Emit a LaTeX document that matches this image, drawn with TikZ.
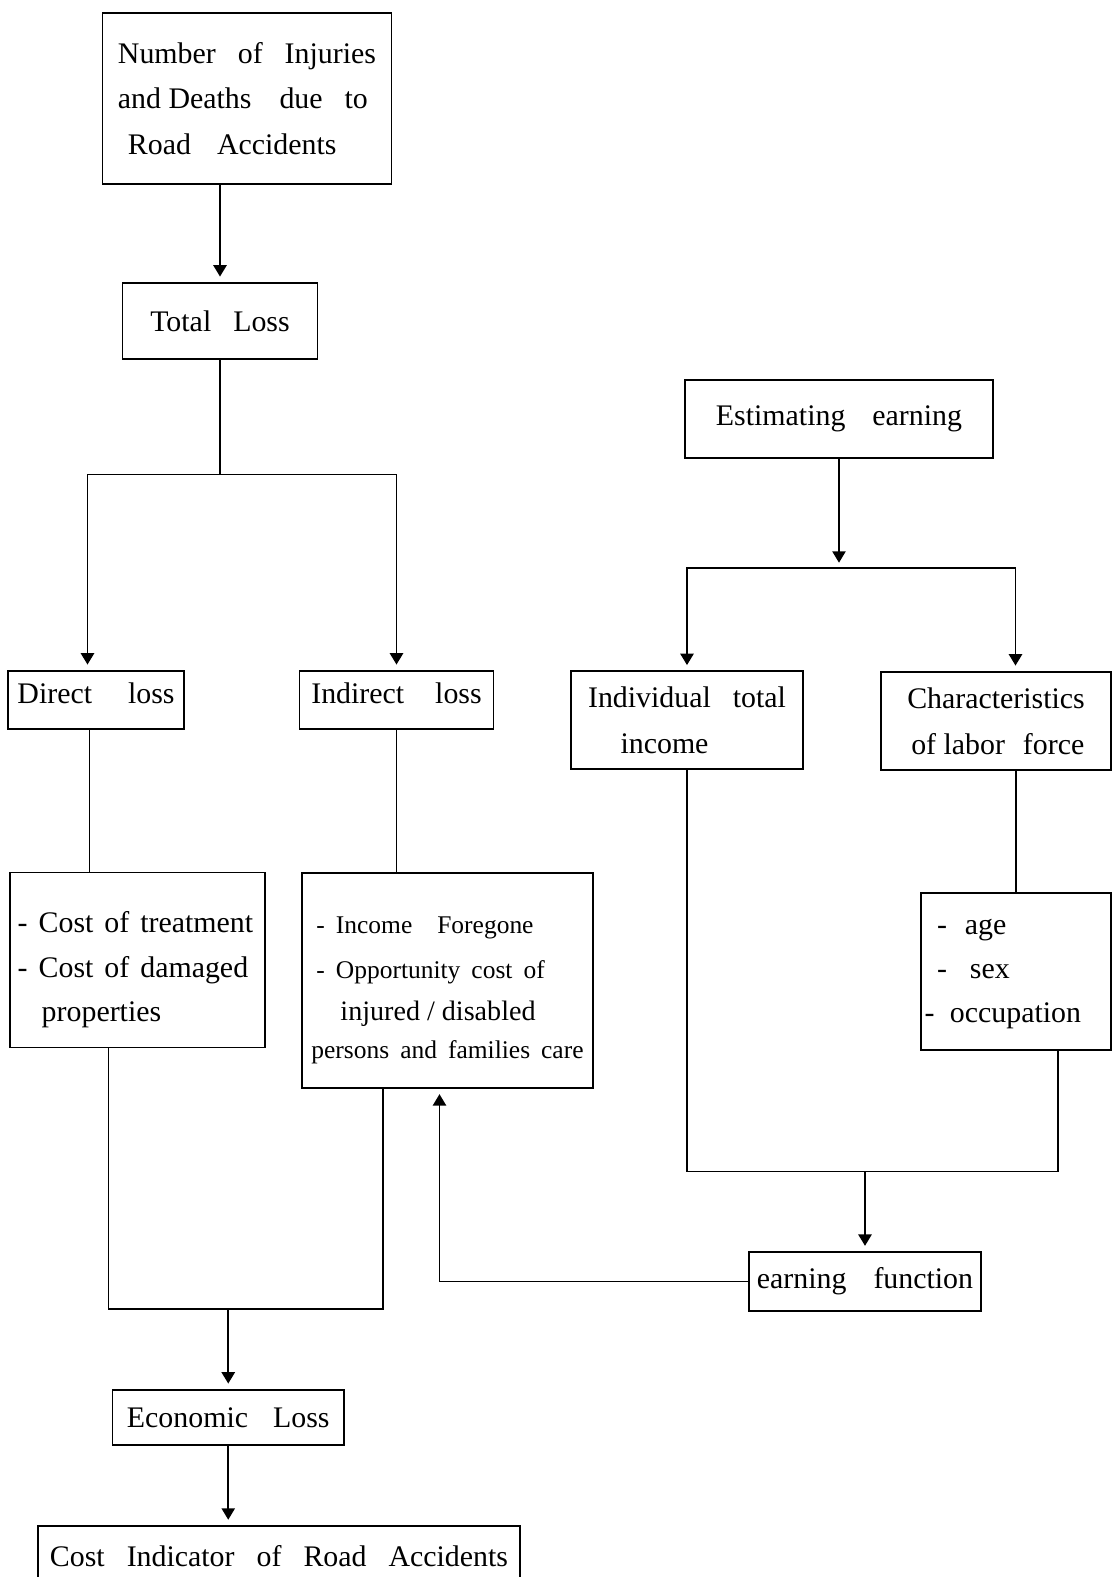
\documentclass[tikz,border=0pt]{standalone}
\usepackage{fontspec}
\setmainfont{Liberation Serif}
\usetikzlibrary{arrows.meta}

\newcommand{\wsp}{\hspace{0.44cm}}
\newcommand{\nsp}{\hspace{0.22cm}}

\tikzset{
  box/.style={draw, line width=1pt, inner sep=2pt, font=\fontsize{17}{26}\selectfont},
  link/.style={line width=1.1pt},
  arr/.style={line width=1.1pt, -{Triangle[length=6.5pt,width=7.5pt]}, shorten >=3pt},
}

\begin{document}
\begin{tikzpicture}
\useasboundingbox (0,0) rectangle (22.26,-31.54);
\clip (0,0) rectangle (22.26,-31.54);

% left column
\node[box, minimum width=5.78cm, minimum height=3.42cm, align=left] (accidents) at (4.94,-1.97)
  {Number\wsp of\wsp Injuries\\and Deaths\hspace{0.56cm}due\wsp to\\\hspace{0.2cm}Road\hspace{0.52cm}Accidents};
\node[box, minimum width=3.90cm, minimum height=1.53cm] (total) at (4.40,-6.42) {Total\wsp Loss};
\node[box, minimum width=3.52cm, minimum height=1.17cm, text depth=8pt] (direct) at (1.92,-14.0) {Direct\hspace{0.72cm}loss};
\node[box, minimum width=3.88cm, minimum height=1.17cm, text depth=8pt] (indirect) at (7.93,-14.0) {Indirect\hspace{0.62cm}loss};
\node[box, text width=4.95cm, minimum height=3.50cm, align=left, font=\fontsize{17}{25.5}\selectfont] (directcost) at (2.75,-19.2)
  {\rule{0pt}{23pt}\hspace{0.08cm}-\nsp Cost\nsp of\nsp treatment\\\hspace{0.08cm}-\nsp Cost\nsp of\nsp damaged\\\hspace{0.56cm}properties};
\node[box, minimum width=5.83cm, minimum height=4.30cm, align=left, font=\fontsize{14.5}{22.5}\selectfont] (indirectcost) at (8.95,-19.61)
  {\rule{0pt}{21pt}\hspace{0.1cm}-\nsp Income\hspace{0.5cm}Foregone\\[2.7pt]\hspace{0.1cm}-\nsp Opportunity\nsp cost\nsp of\\[1.4pt]
   \fontsize{16}{22.5}\selectfont\hspace{0.58cm}injured / disabled\\[-0.6pt]
   \fontsize{14.5}{22.5}\selectfont persons\nsp and\nsp families\nsp care};
\node[box, minimum width=4.63cm, minimum height=1.11cm] (economic) at (4.565,-28.35) {Economic\hspace{0.5cm}Loss};
\node[box, minimum width=9.64cm, minimum height=1.2cm, anchor=north] (indicator) at (5.58,-30.5)
  {Cost\wsp Indicator\wsp of\wsp Road\wsp Accidents};

% right column
\node[box, minimum width=6.17cm, minimum height=1.57cm] (estimating) at (16.78,-8.38) {Estimating\hspace{0.54cm}earning};
\node[box, minimum width=4.64cm, minimum height=1.95cm, align=left] (income) at (13.74,-14.4)
  {Individual\wsp total\\\hspace{0.65cm}income};
\node[box, minimum width=4.60cm, minimum height=1.97cm, align=left] (labor) at (19.92,-14.42)
  {Characteristics\\\hspace{0.08cm}of labor\hspace{0.36cm}force};
\node[box, text width=3.66cm, minimum height=3.14cm, align=left, font=\fontsize{17}{25}\selectfont] (traits) at (20.32,-19.43)
  {\rule{0pt}{12pt}\hspace{0.25cm}-\hspace{0.36cm}age\\\hspace{0.25cm}-\hspace{0.46cm}sex\\-\hspace{0.31cm}occupation};
\node[box, minimum width=4.65cm, minimum height=1.18cm] (earning) at (17.30,-25.63) {earning\hspace{0.54cm}function};

% junctions
\coordinate (split) at (total.south |- 0,-9.49);
\coordinate (fork) at (estimating.south |- 0,-11.36);
\coordinate (join) at (earning.north |- 0,-23.43);
\coordinate (merge) at (economic.north |- 0,-26.18);

% connectors
\draw[arr] (total.north |- accidents.south) -- (total.north);
\draw[link] (total.south) -- (split);
\draw[arr] (split) -| ([xshift=-0.17cm]direct.north);
\draw[arr] (split) -| (indirect.north);
\draw[link] ([xshift=-0.13cm]direct.south) -- ([xshift=-0.13cm]direct.south |- directcost.north);
\draw[link] (indirect.south) -- (indirect.south |- indirectcost.north);

\draw[arr] (estimating.south) -- (fork);
\draw[arr] (fork) -| (income.north);
\draw[arr] (fork) -| ([xshift=0.39cm]labor.north);
\draw[link] (traits.north |- labor.south) -- (traits.north);
\draw[link] (income.south) |- ([xshift=0.84cm]traits.south |- join) -- ([xshift=0.84cm]traits.south);
\draw[arr] (join) -- (earning.north);
\draw[arr] (earning.west) -| ([xshift=-0.16cm]indirectcost.south);

\draw[link] ([xshift=-0.58cm]directcost.south) |- ([xshift=-1.29cm]indirectcost.south |- merge) -- ([xshift=-1.29cm]indirectcost.south);
\draw[arr] (merge) -- (economic.north);
\draw[arr] (economic.south) -- (economic.south |- indicator.north);
\end{tikzpicture}
\end{document}
